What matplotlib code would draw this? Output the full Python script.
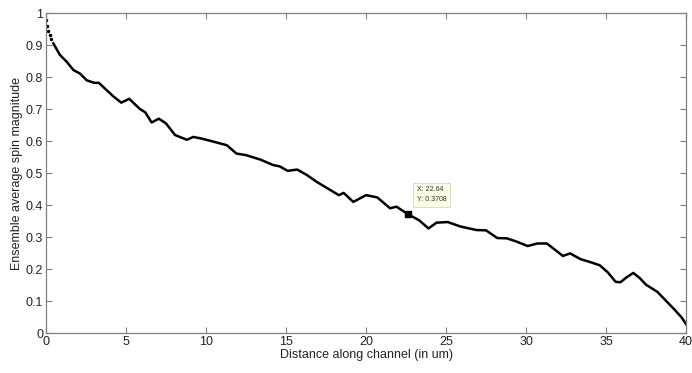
import matplotlib.pyplot as plt

plt.rcParams['font.family'] = ['Liberation Sans', 'DejaVu Sans']

# distance along channel (um) and ensemble average spin magnitude
distance = [0.0, 0.08, 0.15, 0.22, 0.3, 0.46, 0.87, 1.29, 1.71, 2.12, 2.54, 3.0, 3.3,
            3.79, 4.2, 4.7, 5.2, 5.87, 6.2, 6.6, 7.05, 7.5, 8.06, 8.8, 9.2, 9.7,
            10.25, 11.3, 11.9, 12.5, 13.4, 14.2, 14.6, 15.1, 15.7, 16.3, 16.9, 17.5,
            18.3, 18.6, 19.2, 20.0, 20.7, 21.5, 21.9, 22.64, 23.3, 23.9, 24.4, 25.1,
            25.9, 26.9, 27.5, 28.2, 28.8, 29.4, 30.1, 30.7, 31.3, 32.3, 32.75, 33.4,
            34.0, 34.6, 35.1, 35.6, 35.9, 36.3, 36.7, 37.1, 37.5, 38.2, 38.8, 39.3,
            39.7, 40.0]
spin = [0.978, 0.96, 0.945, 0.93, 0.92, 0.905, 0.869, 0.848, 0.822, 0.811, 0.79, 0.782,
        0.782, 0.759, 0.74, 0.72, 0.732, 0.70, 0.69, 0.658, 0.670, 0.655, 0.619, 0.604,
        0.613, 0.608, 0.601, 0.587, 0.561, 0.556, 0.542, 0.525, 0.521, 0.507, 0.511,
        0.494, 0.473, 0.455, 0.431, 0.438, 0.41, 0.431, 0.424, 0.39, 0.395, 0.3708,
        0.353, 0.327, 0.345, 0.347, 0.333, 0.322, 0.321, 0.297, 0.296, 0.286, 0.272,
        0.28, 0.28, 0.241, 0.249, 0.231, 0.222, 0.212, 0.19, 0.16, 0.159, 0.175, 0.188,
        0.172, 0.151, 0.129, 0.098, 0.072, 0.05, 0.028]
tip_x, tip_y = 22.64, 0.3708

fig = plt.figure(figsize=(6.92, 3.73), dpi=100)
ax = fig.add_axes([0.0665, 0.107, 0.925, 0.858])

# sparse samples at the start, continuous trace afterwards
ax.plot(distance[:5], spin[:5], '.', color='black', markersize=3)
ax.plot(distance[5:], spin[5:], '-', color='black', linewidth=1.8)

# data tip
ax.plot([tip_x], [tip_y], 's', color='black', markersize=4)
ax.annotate(f'X: {tip_x}\nY: {tip_y:.4f}', xy=(tip_x, tip_y), xytext=(6, 8),
            textcoords='offset points', fontsize=5, color='#333333',
            va='bottom', ha='left', linespacing=1.6,
            bbox=dict(boxstyle='square,pad=0.5', fc='#fbfbe6', ec='#d8d8c0', lw=0.6))

ax.set_xlim(0, 40)
ax.set_ylim(0, 1)
ax.set_xticks(range(0, 41, 5))
ax.set_yticks([i / 10 for i in range(11)])
ax.set_yticklabels(['0', '0.1', '0.2', '0.3', '0.4', '0.5', '0.6', '0.7', '0.8', '0.9', '1'])

ax.tick_params(direction='in', top=True, right=True, length=4, width=0.8,
               color='#808080', labelcolor='#222222', labelsize=9, pad=2)
for spine in ax.spines.values():
    spine.set_color('#808080')
    spine.set_linewidth(0.9)

ax.set_xlabel('Distance along channel (in um)', fontsize=9, color='#222222', labelpad=1)
ax.set_ylabel('Ensemble average spin magnitude', fontsize=9, color='#222222', labelpad=2)

fig.savefig('out.png', dpi=100)
